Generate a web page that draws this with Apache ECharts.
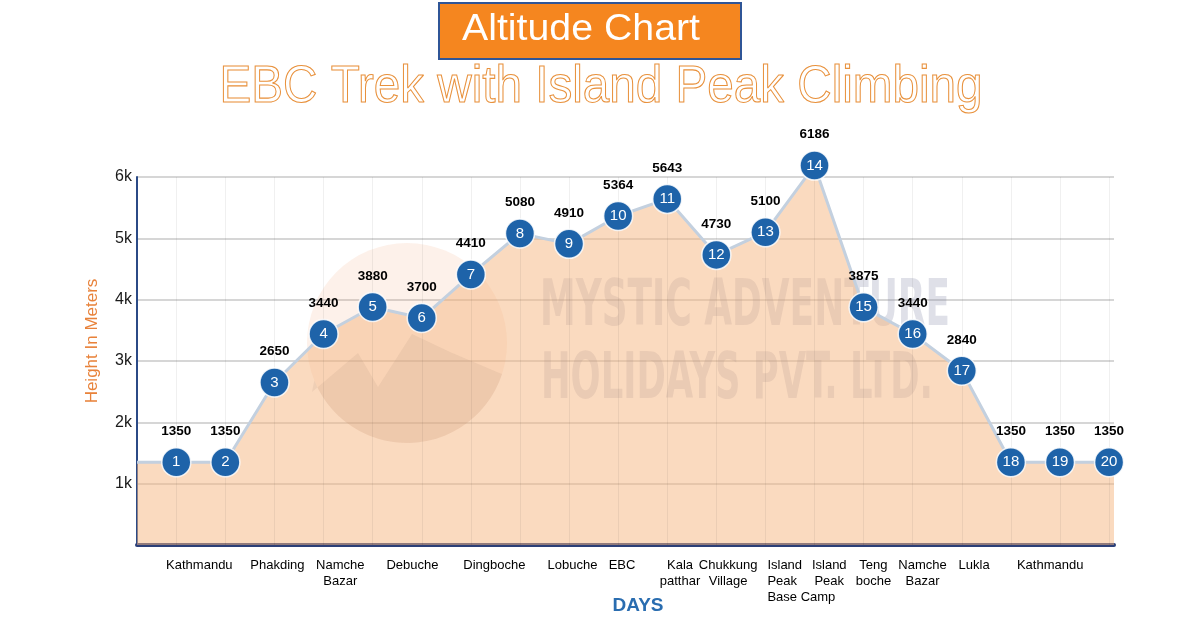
<!DOCTYPE html>
<html><head><meta charset="utf-8">
<script src="https://cdn.jsdelivr.net/npm/echarts@6/dist/echarts.min.js"></script>
<style>html,body{margin:0;padding:0;background:#fff}#c{width:1200px;height:622px}</style>
</head><body><div id="c"></div>
<script>
const days = [1,2,3,4,5,6,7,8,9,10,11,12,13,14,15,16,17,18,19,20];
const altitudes = [1350,1350,2650,3440,3880,3700,4410,5080,4910,5364,5643,4730,5100,6186,3875,3440,2840,1350,1350,1350];
const placeNames = ['Kathmandu','Phakding','Namche\nBazar','Debuche','Dingboche','Lobuche','EBC','Kala\npatthar','Chukkung\nVillage','Island\nPeak\nBase Camp','Island\nPeak','Teng\nboche','Namche\nBazar','Lukla','Kathmandu'];
const placeDays = [1.47,3.06,4.34,5.81,7.48,9.07,10.08,11.26,12.24,13.04,14.3,15.2,16.2,17.25,18.8];
const yTicks = [0,1000,2000,3000,4000,5000,6000];
const xMin = 0.2, xMax = 20.1;

const chart = echarts.init(document.getElementById('c'), null, {renderer:'canvas'});

function fitScale(text, font, target){
  const cv = document.createElement('canvas').getContext('2d');
  cv.font = font;
  return target / cv.measureText(text).width;
}
const FF = '"Liberation Sans", Arial, sans-serif';
const wmFont = 'bold 64px "DejaVu Sans Condensed", "Liberation Sans Narrow", sans-serif';
const subFont = '52px "Liberation Sans", Arial, sans-serif';
const subText = 'EBC Trek with Island Peak Climbing';

const areaData = [[xMin, altitudes[0]]].concat(days.map((d,i)=>[d, altitudes[i]])).concat([[xMax, altitudes[altitudes.length-1]]]);

// logo decoration
const LC = [407,343], LR = 100;
const logoPts = [[312,392],[358,353],[378,387],[412,334],[450,352],[497,372]];
(function(){for(let d=18;d<=158;d+=5){const t=d*Math.PI/180;logoPts.push([LC[0]+LR*Math.cos(t), LC[1]+LR*Math.sin(t)]);}})();

const option = {
  animation:false,
  grid:{left:137,right:86,top:177,bottom:77},
  xAxis:{type:'value',min:xMin,max:xMax,
    axisLine:{show:true,onZero:false,lineStyle:{color:'#2b3f78',width:4}},
    axisTick:{show:false},axisLabel:{show:false},splitLine:{show:false}},
  yAxis:{type:'value',min:yTicks[0],max:yTicks[yTicks.length-1],interval:1000,
    axisLine:{show:true,lineStyle:{color:'#2b4a86',width:2}},
    axisTick:{show:false},
    axisLabel:{color:'#1a1a1a',fontSize:16,fontFamily:FF,margin:5,
      formatter:v=> v===0?'':(v/1000)+'k'},
    splitLine:{lineStyle:{color:'#c9c9c9',width:1.5}}},
  graphic:[
    {type:'rect',left:438,top:2,z:10,shape:{width:302,height:56},style:{fill:'#f5861f',stroke:'#2f5597',lineWidth:2}},
    {type:'text',x:581,y:30,z:11,scaleX:fitScale('Altitude Chart','36px '+FF,238),style:{text:'Altitude Chart',fill:'#fff',font:'36px '+FF,align:'center',verticalAlign:'middle'}},
    {type:'text',x:601,y:88,z:11,scaleX:fitScale(subText,subFont,763),
      style:{text:subText,font:subFont,fill:'rgba(255,255,255,0)',stroke:'#e8913c',lineWidth:1.1,align:'center',verticalAlign:'middle'}},
    {type:'circle',z:1,shape:{cx:LC[0],cy:LC[1],r:LR},style:{fill:'rgba(240,140,80,0.12)'}},
    {type:'polygon',z:1,shape:{points:logoPts},style:{fill:'rgba(110,110,130,0.16)'}},
    {type:'text',x:745,y:308,z:1,scaleX:fitScale('MYSTIC ADVENTURE',wmFont,410),
      style:{text:'MYSTIC ADVENTURE',font:wmFont,fill:'rgba(120,125,160,0.24)',align:'center',verticalAlign:'middle'}},
    {type:'text',x:737,y:381,z:1,scaleX:fitScale('HOLIDAYS PVT. LTD.',wmFont,392),
      style:{text:'HOLIDAYS PVT. LTD.',font:wmFont,fill:'rgba(120,125,160,0.24)',align:'center',verticalAlign:'middle'}},
    {type:'text',x:92,y:341,z:11,rotation:Math.PI/2,style:{text:'Height In Meters',font:'17px '+FF,fill:'#e8823a',align:'center',verticalAlign:'middle'}},
    {type:'text',x:638,y:606,z:11,style:{text:'DAYS',font:'bold 19px '+FF,fill:'#2a6db0',align:'center',verticalAlign:'middle'}}
  ],
  series:[
    {type:'line',data:areaData,showSymbol:false,symbol:'none',z:2,clip:false,
      lineStyle:{color:'#c3d0df',width:3},
      areaStyle:{color:'#f6b57f',opacity:0.5},
      markLine:{silent:true,symbol:'none',label:{show:false},
        lineStyle:{color:'rgba(0,0,0,0.06)',width:1,type:'solid'},
        data:days.map(d=>({xAxis:d}))}},
    {type:'scatter',data:days.map((d,i)=>[d, altitudes[i]]),z:5,clip:false,
      symbol:'circle',symbolSize:29,
      itemStyle:{color:'#1e63a9',borderColor:'rgba(255,255,255,0.85)',borderWidth:1.5,opacity:1},
      label:{show:true,position:'inside',color:'#fff',fontSize:15,fontFamily:FF,
        formatter:p=>String(days[p.dataIndex])}},
    {type:'scatter',data:days.map((d,i)=>[d, altitudes[i]]),z:6,symbolSize:0,silent:true,clip:false,
      itemStyle:{opacity:1},
      label:{show:true,position:'top',distance:24,color:'#000',fontSize:13.5,fontWeight:'bold',fontFamily:FF,
        formatter:p=>String(altitudes[p.dataIndex])}},
    {type:'scatter',data:placeNames.map((n,i)=>({value:[placeDays[i],0],
        label: n.indexOf('Base')>=0 ? {align:'left'} : undefined})),
      z:6,symbolSize:0,silent:true,clip:false,itemStyle:{opacity:1},
      label:{show:true,position:'bottom',distance:12,color:'#000',fontSize:13,lineHeight:16,fontFamily:FF,align:'center',
        formatter:p=>placeNames[p.dataIndex]}}
  ]
};
chart.setOption(option);
</script></body></html>
